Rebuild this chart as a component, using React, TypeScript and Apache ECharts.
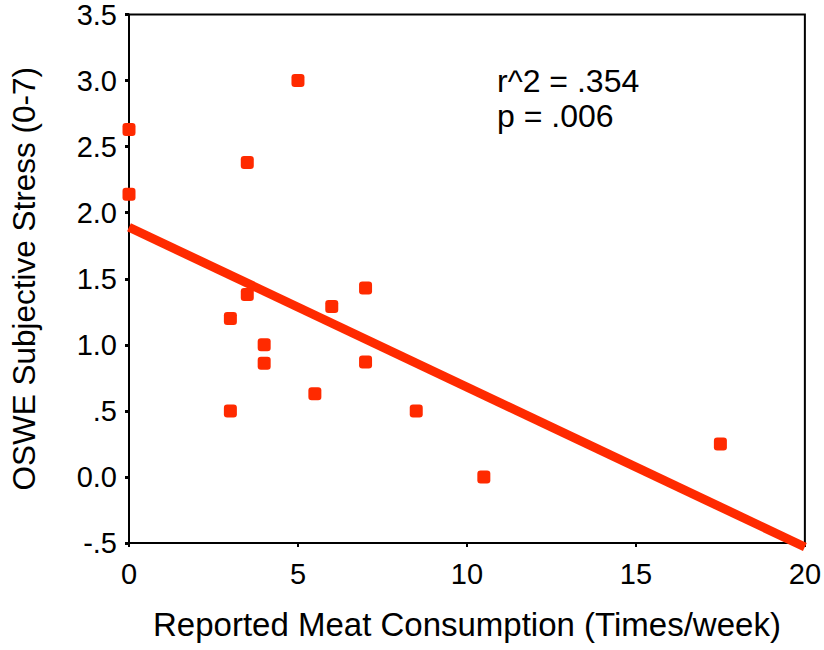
import React, { useEffect, useRef } from "react";
import * as echarts from "echarts";

const meatPerWeek = [0, 0, 5, 3.5, 3.5, 3, 4, 4, 3, 6, 7, 7, 5.5, 8.5, 10.5, 17.5];
const stressScore = [2.63, 2.14, 3.0, 2.38, 1.38, 1.2, 1.0, 0.86, 0.5, 1.29, 1.43, 0.87, 0.63, 0.5, 0.0, 0.25];
const fitX = [0, 20];
const fitY = [1.89, -0.53];
const xTicks = { min: 0, max: 20, interval: 5 };
const yTicks = { min: -0.5, max: 3.5, interval: 0.5 };
const statLines = ["r^2 = .354", "p = .006"];

const RED = "#ff2a00";
const FONT = "'Liberation Sans', Arial, sans-serif";

function fmtY(v: number): string {
  const r = Math.round(v * 10) / 10;
  if (r === 0) return "0.0";
  if (Math.abs(r) < 1) return (r < 0 ? "-" : "") + String(Math.abs(r)).replace(/^0/, "");
  return r.toFixed(1);
}

export default function App() {
  const ref = useRef<HTMLDivElement>(null);
  useEffect(() => {
    if (!ref.current) return;
    const chart = echarts.init(ref.current, undefined, { renderer: "svg" });
    chart.setOption({
      animation: false,
      backgroundColor: "#ffffff",
      textStyle: { fontFamily: FONT },
      grid: {
        left: 128,
        top: 13,
        right: 18,
        bottom: 107,
        show: true,
        borderColor: "#000",
        borderWidth: 2,
        backgroundColor: "transparent",
      },
      xAxis: {
        type: "value",
        min: xTicks.min,
        max: xTicks.max,
        interval: xTicks.interval,
        name: "Reported Meat Consumption (Times/week)",
        nameLocation: "middle",
        nameGap: 65,
        nameTextStyle: { fontSize: 33, color: "#000", fontFamily: FONT },
        axisLine: { show: true, onZero: false, lineStyle: { color: "#000", width: 2 } },
        axisTick: { show: true, length: 4, lineStyle: { color: "#000", width: 2 } },
        axisLabel: { fontSize: 29, color: "#000", margin: 16, fontFamily: FONT },
        splitLine: { show: false },
      },
      yAxis: {
        type: "value",
        min: yTicks.min,
        max: yTicks.max,
        interval: yTicks.interval,
        name: "OSWE Subjective Stress (0-7)",
        nameLocation: "middle",
        nameGap: 89,
        nameTextStyle: { fontSize: 31.5, color: "#000", fontFamily: FONT },
        axisLine: { show: true, onZero: false, lineStyle: { color: "#000", width: 2 } },
        axisTick: { show: true, length: 4, lineStyle: { color: "#000", width: 3 } },
        axisLabel: { fontSize: 29, color: "#000", margin: 12, fontFamily: FONT, formatter: fmtY },
        splitLine: { show: false },
      },
      series: [
        {
          type: "line",
          data: fitX.map((x, i) => [x, fitY[i]]),
          showSymbol: false,
          symbol: "none",
          clip: false,
          lineStyle: { color: RED, width: 9, opacity: 1 },
          z: 2,
        },
        {
          type: "scatter",
          data: meatPerWeek.map((x, i) => [x, stressScore[i]]),
          symbol: "roundRect",
          symbolSize: 13,
          clip: false,
          itemStyle: { color: RED, opacity: 1 },
          z: 3,
        },
      ],
      graphic: statLines.map((t, i) => ({
        type: "text",
        left: 497,
        top: 65 + i * 35,
        style: { text: t, fontSize: 32, fill: "#000", fontFamily: FONT },
      })),
    });
    return () => chart.dispose();
  }, []);
  return (
    <div
      ref={ref}
      style={{ position: "absolute", left: 0, top: 0, width: 824, height: 650 }}
    />
  );
}
